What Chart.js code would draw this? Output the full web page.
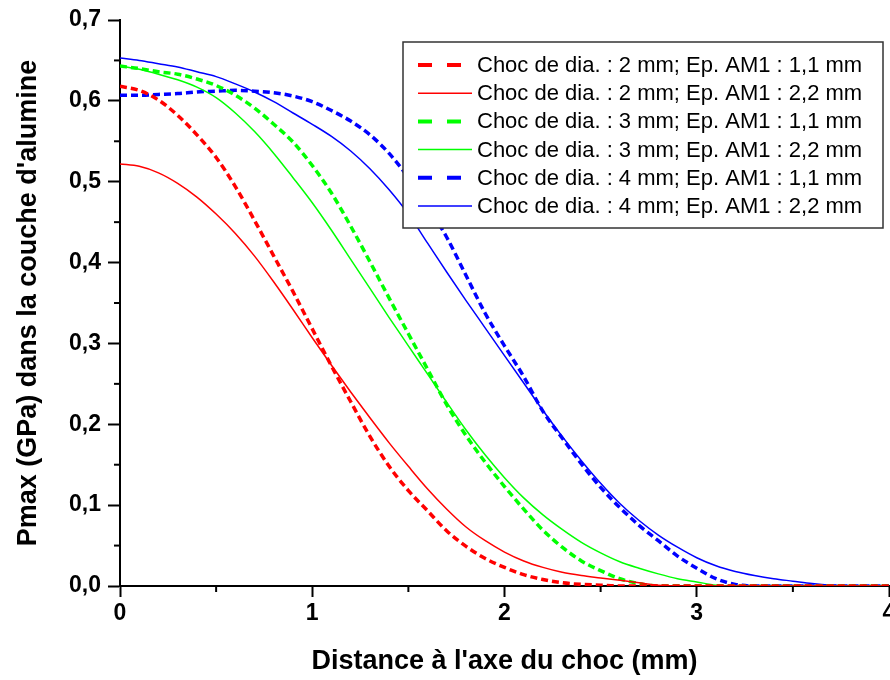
<!DOCTYPE html>
<html>
<head>
<meta charset="utf-8">
<script src="https://cdn.jsdelivr.net/npm/chart.js@4.4.1/dist/chart.umd.min.js"></script>
<style>
  html, body { margin: 0; padding: 0; background: #fff; }
  #wrap { width: 890px; height: 680px; position: relative; }
</style>
</head>
<body>
<div id="wrap"><canvas id="pmaxChart"></canvas></div>
<script>
// distance from the impact axis (mm)
var distance = [0.0, 0.1, 0.2, 0.3, 0.4, 0.5, 0.6, 0.7, 0.8, 0.9,
                1.0, 1.1, 1.2, 1.3, 1.4, 1.5, 1.6, 1.7, 1.8, 1.9,
                2.0, 2.1, 2.2, 2.3, 2.4, 2.5, 2.6, 2.7, 2.8, 2.9,
                3.0, 3.1, 3.2, 3.3, 3.4, 3.5, 3.6, 3.7, 3.8, 3.9, 4.0];

// Pmax (GPa) in the alumina layer
var d2_e11 = [0.618, 0.613, 0.601, 0.582, 0.558, 0.530, 0.494, 0.452, 0.408, 0.364,
              0.318, 0.272, 0.228, 0.185, 0.148, 0.118, 0.093, 0.068, 0.049, 0.034,
              0.023, 0.014, 0.008, 0.004, 0.002, 0.001, 0, 0, 0, 0,
              0, 0, 0, 0, 0, 0, 0, 0, 0, 0, 0];
var d2_e22 = [0.522, 0.519, 0.511, 0.498, 0.481, 0.460, 0.436, 0.408, 0.376, 0.342,
              0.307, 0.273, 0.240, 0.208, 0.177, 0.148, 0.120, 0.095, 0.073, 0.056,
              0.042, 0.031, 0.023, 0.017, 0.013, 0.010, 0.007, 0.004, 0.001, 0,
              0, 0, 0, 0, 0, 0, 0, 0, 0, 0, 0];
var d3_e11 = [0.643, 0.640, 0.636, 0.633, 0.627, 0.619, 0.607, 0.591, 0.571, 0.549,
              0.520, 0.486, 0.445, 0.401, 0.356, 0.312, 0.268, 0.224, 0.186, 0.153,
              0.123, 0.095, 0.069, 0.048, 0.031, 0.019, 0.009, 0.003, 0, 0,
              0, 0, 0, 0, 0, 0, 0, 0, 0, 0, 0];
var d3_e22 = [0.643, 0.639, 0.633, 0.626, 0.617, 0.604, 0.585, 0.562, 0.535, 0.505,
              0.474, 0.440, 0.404, 0.368, 0.332, 0.297, 0.262, 0.227, 0.193, 0.162,
              0.134, 0.109, 0.088, 0.070, 0.054, 0.041, 0.030, 0.022, 0.015, 0.009,
              0.005, 0.001, 0, 0, 0, 0, 0, 0, 0, 0, 0];
var d4_e11 = [0.607, 0.607, 0.608, 0.609, 0.611, 0.612, 0.613, 0.612, 0.610, 0.606,
              0.599, 0.588, 0.575, 0.558, 0.535, 0.505, 0.470, 0.431, 0.384, 0.337,
              0.297, 0.259, 0.216, 0.183, 0.151, 0.122, 0.097, 0.075, 0.056, 0.037,
              0.022, 0.009, 0.002, 0, 0, 0, 0, 0, 0, 0, 0];
var d4_e22 = [0.653, 0.650, 0.646, 0.642, 0.636, 0.630, 0.621, 0.611, 0.599, 0.585,
              0.571, 0.556, 0.538, 0.516, 0.490, 0.460, 0.424, 0.388, 0.353, 0.319,
              0.285, 0.251, 0.217, 0.185, 0.155, 0.127, 0.102, 0.081, 0.063, 0.048,
              0.035, 0.025, 0.018, 0.013, 0.009, 0.006, 0.003, 0.001, 0, 0, 0];

var seriesLabels = ['Choc de dia. : 2 mm; Ep. AM1 : 1,1 mm',
                    'Choc de dia. : 2 mm; Ep. AM1 : 2,2 mm',
                    'Choc de dia. : 3 mm; Ep. AM1 : 1,1 mm',
                    'Choc de dia. : 3 mm; Ep. AM1 : 2,2 mm',
                    'Choc de dia. : 4 mm; Ep. AM1 : 1,1 mm',
                    'Choc de dia. : 4 mm; Ep. AM1 : 2,2 mm'];
var seriesValues = [d2_e11, d2_e22, d3_e11, d3_e22, d4_e11, d4_e22];
var seriesColors = ['#ff0000', '#ff0000', '#00ff00', '#00ff00', '#0000ff', '#0000ff'];
var seriesDashed = [true, false, true, false, true, false];

var FONT = '"Liberation Sans", Arial, sans-serif';

function isMajor(v, step) {
    var r = v / step;
    return Math.abs(r - Math.round(r)) < 1e-6;
}

function toPoints(values) {
    return values.map(function(v, i) { return { x: distance[i], y: v }; });
}

var datasets = seriesValues.map(function(vals, i) {
    return {
        label: seriesLabels[i],
        data: toPoints(vals),
        borderColor: seriesColors[i],
        backgroundColor: seriesColors[i],
        borderWidth: seriesDashed[i] ? 3.5 : 1.5,
        borderDash: seriesDashed[i] ? [7, 4] : [],
        pointRadius: 0,
        fill: false,
        cubicInterpolationMode: 'monotone'
    };
});

// short minor ticks (the library draws the long major ones)
var minorTicks = {
    id: 'minorTicks',
    afterDraw: function(chart) {
        var ctx = chart.ctx, xs = chart.scales.x, ys = chart.scales.y;
        ctx.save();
        ctx.strokeStyle = '#000';
        ctx.lineWidth = 2;
        ys.ticks.forEach(function(t) {
            if (isMajor(t.value, 0.1)) return;
            var py = ys.getPixelForValue(t.value);
            ctx.beginPath(); ctx.moveTo(ys.right - 6, py); ctx.lineTo(ys.right, py); ctx.stroke();
        });
        xs.ticks.forEach(function(t) {
            if (isMajor(t.value, 1)) return;
            var px = xs.getPixelForValue(t.value);
            ctx.beginPath(); ctx.moveTo(px, xs.top); ctx.lineTo(px, xs.top + 6); ctx.stroke();
        });
        ctx.restore();
    }
};

// boxed legend sitting inside the plot, top right
var boxLegend = {
    id: 'boxLegend',
    afterDatasetsDraw: function(chart) {
        var ctx = chart.ctx;
        var bx = 403, by = 42, bw = 480, bh = 186;
        ctx.save();
        ctx.fillStyle = '#fff';
        ctx.fillRect(bx, by, bw, bh);
        ctx.strokeStyle = '#333';
        ctx.lineWidth = 1.5;
        ctx.strokeRect(bx, by, bw, bh);
        ctx.font = '22px ' + FONT;
        ctx.textBaseline = 'middle';
        ctx.fillStyle = '#000';
        chart.data.datasets.forEach(function(ds, i) {
            var y = 65 + i * 28.2;
            ctx.strokeStyle = ds.borderColor;
            ctx.lineWidth = seriesDashed[i] ? 4 : 1.5;
            ctx.setLineDash(seriesDashed[i] ? [14, 15] : []);
            ctx.beginPath(); ctx.moveTo(418, y); ctx.lineTo(472, y); ctx.stroke();
            ctx.setLineDash([]);
            ctx.fillText(ds.label, 477, y + 1);
        });
        ctx.restore();
    }
};

var ctx = document.getElementById('pmaxChart').getContext('2d');
var pmaxChart = new Chart(ctx, {
    type: 'line',
    data: { datasets: datasets },
    plugins: [minorTicks, boxLegend],
    options: {
        responsive: true,
        maintainAspectRatio: false,
        animation: false,
        layout: { padding: { top: 20, right: 1, left: 0, bottom: 0 } },
        plugins: {
            legend: { display: false },
            tooltip: { enabled: false }
        },
        scales: {
            x: {
                type: 'linear',
                min: 0,
                max: 4,
                afterFit: function(s) { s.height = 94; s.paddingLeft = 0; s.paddingRight = 0; },
                border: { display: true, color: '#000', width: 2 },
                grid: {
                    drawOnChartArea: false,
                    drawTicks: true,
                    tickLength: 11,
                    tickWidth: 2,
                    tickColor: function(c) { return c.tick && isMajor(c.tick.value, 1) ? '#000' : 'rgba(0,0,0,0)'; }
                },
                ticks: {
                    stepSize: 0.5,
                    autoSkip: false,
                    maxRotation: 0,
                    padding: 3,
                    color: '#000',
                    font: { family: FONT, size: 23, weight: 'bold' },
                    callback: function(v) { return isMajor(v, 1) ? String(Math.round(v)) : ''; }
                },
                title: {
                    display: true,
                    text: "Distance à l'axe du choc (mm)",
                    color: '#000',
                    font: { family: FONT, size: 27, weight: 'bold' },
                    padding: { top: 0, bottom: 2 }
                }
            },
            y: {
                type: 'linear',
                min: 0,
                max: 0.7,
                afterFit: function(s) { s.width = 120; s.paddingTop = 0; s.paddingBottom = 0; },
                border: { display: true, color: '#000', width: 2 },
                grid: {
                    drawOnChartArea: false,
                    drawTicks: true,
                    tickLength: 12,
                    tickWidth: 2,
                    tickColor: function(c) { return c.tick && isMajor(c.tick.value, 0.1) ? '#000' : 'rgba(0,0,0,0)'; }
                },
                ticks: {
                    stepSize: 0.05,
                    autoSkip: false,
                    padding: 7,
                    color: '#000',
                    font: { family: FONT, size: 23, weight: 'bold' },
                    callback: function(v) { return isMajor(v, 0.1) ? v.toFixed(1).replace('.', ',') : ''; }
                },
                title: {
                    display: true,
                    text: "Pmax (GPa) dans la couche d'alumine",
                    color: '#000',
                    font: { family: FONT, size: 27, weight: 'bold' },
                    padding: { top: 12, bottom: 0 }
                }
            }
        }
    }
});
</script>
</body>
</html>
